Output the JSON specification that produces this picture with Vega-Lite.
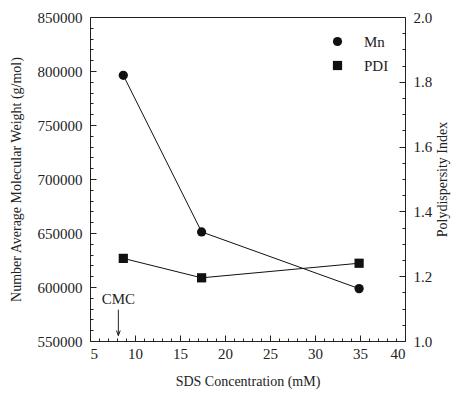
{
  "$schema": "https://vega.github.io/schema/vega-lite/v6.json",
  "width": 315,
  "height": 324,
  "autosize": {"type": "none"},
  "padding": {"left": 90, "top": 17, "right": 52, "bottom": 54},
  "background": "white",
  "config": {
    "view": {"stroke": "#222", "strokeWidth": 1},
    "font": "Liberation Serif",
    "axis": {
      "labelFont": "Liberation Serif", "titleFont": "Liberation Serif",
      "labelFontSize": 15, "titleFontSize": 14, "titleFontWeight": "normal",
      "labelColor": "#222", "titleColor": "#222", "domainColor": "#222", "tickColor": "#222",
      "grid": false, "domain": false, "tickWidth": 1, "ticks": true
    },
    "legend": {
      "labelFont": "Liberation Serif", "labelFontSize": 15, "labelColor": "#222"
    }
  },
  "datasets": {
    "mn": [
      {"c": 8.7, "mn": 796000, "series": "Mn"},
      {"c": 17.4, "mn": 651000, "series": "Mn"},
      {"c": 34.9, "mn": 598500, "series": "Mn"}
    ],
    "pdi": [
      {"c": 8.7, "pdi": 1.255, "series": "PDI"},
      {"c": 17.4, "pdi": 1.195, "series": "PDI"},
      {"c": 34.9, "pdi": 1.24, "series": "PDI"}
    ],
    "cmc": [
      {"c": 8.15, "v": 589000, "v2": 555000, "top": 579000, "label": "CMC"}
    ]
  },
  "layer": [
    {
      "data": {"name": "mn"},
      "mark": {"type": "line", "color": "#111", "strokeWidth": 1},
      "encoding": {
        "x": {"field": "c", "type": "quantitative", "scale": {"domain": [5, 40]},
          "axis": {"orient": "bottom", "values": [5, 10, 15, 20, 25, 30, 35, 40], "offset": -6, "tickSize": 6, "labelPadding": 5, "title": "SDS Concentration (mM)", "titlePadding": 13}},
        "y": {"field": "mn", "type": "quantitative", "scale": {"domain": [550000, 850000], "zero": false},
          "axis": {"orient": "left", "values": [550000, 600000, 650000, 700000, 750000, 800000, 850000], "offset": -6, "tickSize": 6, "labelPadding": 8, "format": "d", "title": "Number Average Molecular Weight (g/mol)", "titlePadding": 14}}
      }
    },
    {
      "data": {"name": "mn"},
      "mark": {"type": "point", "filled": true, "color": "#111", "size": 85, "opacity": 1},
      "encoding": {
        "x": {"field": "c", "type": "quantitative", "scale": {"domain": [5, 40]}, "axis": null},
        "y": {"field": "mn", "type": "quantitative", "scale": {"domain": [550000, 850000], "zero": false}, "axis": null},
        "shape": {"field": "series", "type": "nominal", "scale": {"domain": ["Mn", "PDI"], "range": ["circle", "square"]},
          "legend": {"title": null, "orient": "none", "legendX": 240, "legendY": 17, "symbolSize": 85, "symbolFillColor": "#111", "symbolStrokeColor": "#111", "labelOffset": 19, "rowPadding": 7}}
      }
    },
    {
      "data": {"name": "pdi"},
      "mark": {"type": "line", "color": "#111", "strokeWidth": 1},
      "encoding": {
        "x": {"field": "c", "type": "quantitative", "scale": {"domain": [5, 40]}, "axis": null},
        "y": {"field": "pdi", "type": "quantitative", "scale": {"domain": [1, 2], "zero": false},
          "axis": {"orient": "right", "values": [1.0, 1.2, 1.4, 1.6, 1.8, 2.0], "format": ".1f", "offset": -6, "tickSize": 6, "labelPadding": 8, "title": "Polydispersity Index", "titleAngle": 270, "titlePadding": 18}}
      }
    },
    {
      "data": {"name": "pdi"},
      "mark": {"type": "point", "filled": true, "color": "#111", "size": 85, "opacity": 1},
      "encoding": {
        "x": {"field": "c", "type": "quantitative", "scale": {"domain": [5, 40]}, "axis": null},
        "y": {"field": "pdi", "type": "quantitative", "scale": {"domain": [1, 2], "zero": false}, "axis": null},
        "shape": {"field": "series", "type": "nominal", "scale": {"domain": ["Mn", "PDI"], "range": ["circle", "square"]}}
      }
    },
    {
      "data": {"name": "mn"},
      "mark": {"type": "point", "opacity": 0},
      "encoding": {
        "x": {"field": "c", "type": "quantitative", "scale": {"domain": [5, 40]},
          "axis": {"orient": "bottom", "values": [6,7,8,9,11,12,13,14,16,17,18,19,21,22,23,24,26,27,28,29,31,32,33,34,36,37,38,39], "offset": -3, "tickSize": 3, "labels": false, "title": null}},
        "y": {"field": "mn", "type": "quantitative", "scale": {"domain": [550000, 850000], "zero": false},
          "axis": {"orient": "left", "values": [560000,570000,580000,590000,610000,620000,630000,640000,660000,670000,680000,690000,710000,720000,730000,740000,760000,770000,780000,790000,810000,820000,830000,840000], "offset": -3, "tickSize": 3, "labels": false, "title": null}}
      }
    },
    {
      "data": {"name": "pdi"},
      "mark": {"type": "point", "opacity": 0},
      "encoding": {
        "x": {"field": "c", "type": "quantitative", "scale": {"domain": [5, 40]}, "axis": null},
        "y": {"field": "pdi", "type": "quantitative", "scale": {"domain": [1, 2], "zero": false},
          "axis": {"orient": "right", "values": [1.05,1.1,1.15,1.25,1.3,1.35,1.45,1.5,1.55,1.65,1.7,1.75,1.85,1.9,1.95], "offset": -3, "tickSize": 3, "labels": false, "title": null}}
      }
    },
    {
      "data": {"name": "cmc"},
      "mark": {"type": "text", "font": "Liberation Serif", "fontSize": 15, "color": "#222", "baseline": "middle"},
      "encoding": {
        "x": {"field": "c", "type": "quantitative", "scale": {"domain": [5, 40]}, "axis": null},
        "y": {"field": "v", "type": "quantitative", "scale": {"domain": [550000, 850000], "zero": false}, "axis": null},
        "text": {"field": "label"}
      }
    },
    {
      "data": {"name": "cmc"},
      "mark": {"type": "rule", "color": "#222", "strokeWidth": 1},
      "encoding": {
        "x": {"field": "c", "type": "quantitative", "scale": {"domain": [5, 40]}, "axis": null},
        "y": {"field": "top", "type": "quantitative", "scale": {"domain": [550000, 850000], "zero": false}, "axis": null},
        "y2": {"field": "v2"}
      }
    },
    {
      "data": {"name": "cmc"},
      "mark": {"type": "point", "shape": "M-0.6,-1.6L0,0L0.6,-1.6", "filled": false, "stroke": "#222", "strokeWidth": 1, "size": 40, "opacity": 1},
      "encoding": {
        "x": {"field": "c", "type": "quantitative", "scale": {"domain": [5, 40]}, "axis": null},
        "y": {"field": "v2", "type": "quantitative", "scale": {"domain": [550000, 850000], "zero": false}, "axis": null}
      }
    }
  ],
  "resolve": {"scale": {"y": "independent"}, "axis": {"x": "independent", "y": "independent"}}
}
